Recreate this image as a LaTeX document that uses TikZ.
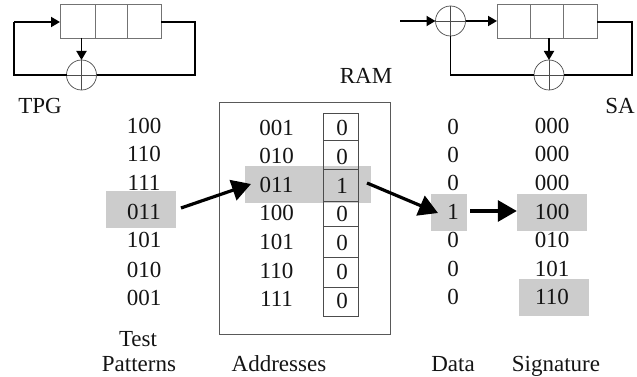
\documentclass[tikz,border=0pt]{standalone}
\usepackage{fontspec}
\setmainfont{Liberation Serif}
\usetikzlibrary{arrows.meta}
\tikzset{
  txt/.style={inner sep=0pt,font=\fontsize{23}{24}\selectfont,text=black!92},
  lbl/.style={txt,anchor=base},
  band/.style={fill=black!20,draw=none,inner sep=0pt},
  reg/.style={draw=black!55,line width=0.8pt,fill=white,minimum height=34pt,inner sep=0pt,outer sep=0pt},
  xorc/.style={circle,draw=black!70,line width=0.7pt,fill=white,minimum size=30pt,inner sep=0pt,outer sep=0pt},
  wire/.style={line width=1.8pt,black},
  arr/.style={wire,-{Triangle[length=9pt,width=10pt]}},
  big/.style={line width=3.2pt,black,-{Triangle[length=19pt,width=21pt]}},
  cellc/.style={draw=black!70,line width=0.7pt,fill=none,minimum width=35pt,inner sep=0pt,outer sep=0pt}
}
\newcommand{\xorcross}[1]{\draw[black!70,line width=0.7pt] (#1.north)--(#1.south) (#1.west)--(#1.east);}
\begin{document}
\begin{tikzpicture}[x=1pt,y=-1pt]
\useasboundingbox (0,0) rectangle (637,377);
% grey bands
\node[band,minimum width=70pt,minimum height=37pt] (gl) at (141,209.5) {};
\node[band,minimum width=126pt,minimum height=37pt] (gm) at (308,184.5) {};
\node[band,minimum width=36pt,minimum height=37pt] (gd) at (449,212.5) {};
\node[band,minimum width=70pt,minimum height=37pt] (gs1) at (552,212.5) {};
\node[band,minimum width=70pt,minimum height=37pt] (gs2) at (554,297.5) {};
% TPG
\node[reg,minimum width=35pt] (a1) at (77.5,21) {};
\node[reg,minimum width=32pt] (a2) at (111,21) {};
\node[reg,minimum width=34pt] (a3) at (144,21) {};
\node[xorc] (ax) at (81.5,75) {};
\xorcross{ax}
\coordinate (al) at (14,22);
\coordinate (ar) at (195,22);
\draw[wire] (ax.west) -- (14,75) -- (al);
\draw[arr] (al) -- (a1.west |- al);
\draw[wire] (a3.east |- ar) -- (ar) -- (195,75) -- (ax.east);
\draw[arr] (a1.south -| ax) -- (ax.north);
% SA
\coordinate (sin) at (400,21);
\node[xorc] (s1) at (450.5,21) {};
\xorcross{s1}
\node[reg,minimum width=34pt] (b1) at (514,21) {};
\node[reg,minimum width=33pt] (b2) at (547,21) {};
\node[reg,minimum width=34pt] (b3) at (580,21) {};
\node[xorc] (s2) at (549,75) {};
\xorcross{s2}
\draw[arr] (sin) -- (s1.west);
\draw[arr] (s1.east) -- (b1.west);
\draw[wire] (b3.east |- 0,22) -- (632,22) -- (632,75) -- (s2.east);
\draw[wire] (s2.west) -- (450.5,75) -- (s1.south);
\draw[arr] (b2.south -| s2) -- (s2.north);
% RAM
\node[draw=black!65,line width=0.8pt,minimum width=171pt,minimum height=232pt,inner sep=0pt] (ram) at (304.5,218) {};
\foreach \n/\ya/\yb in {1/113/140,2/140/169,3/169/201,4/201/226,5/226/257,6/257/287,7/287/316}{
  \pgfmathsetmacro{\hh}{\yb-\ya}
  \node[cellc,minimum height=\hh pt] (c\n) at (340.5,{(\ya+\yb)/2}) {};
}
\foreach \n/\y/\v in {1/128/0,2/157/0,3/186/1,4/214/0,5/243/0,6/272/0,7/301/0}
  \node[txt] (v\n) at (342,\y) {\v};
\foreach \n/\y/\v in {1/128/001,2/156/010,3/185/011,4/213/100,5/242/101,6/271/110,7/299/111}
  \node[txt] (ad\n) at (276.5,\y) {\v};
% Columns
\foreach \n/\y/\v in {1/126/100,2/154/110,3/183/111,4/212/011,5/240/101,6/270/010,7/298/001}
  \node[txt] (p\n) at (144,\y) {\v};
\foreach \n/\y/\v in {1/127/0,2/155/0,3/183/0,4/212/1,5/240/0,6/269/0,7/297/0}
  \node[txt] (d\n) at (453,\y) {\v};
\foreach \n/\y/\v in {1/126/000,2/154/000,3/183/000,4/212/100,5/240/010,6/269/101,7/297/110}
  \node[txt] (g\n) at (552,\y) {\v};
% labels
\node[lbl] (tpg) at (40,114) {TPG};
\node[lbl] (sal) at (620,114) {SA};
\node[lbl] (raml) at (366,84) {RAM};
\node[lbl] (t1) at (138,346) {Test};
\node[lbl] (t2) at (139,371) {Patterns};
\node[lbl] (t3) at (279,371) {Addresses};
\node[lbl] (t4) at (453,371) {Data};
\node[lbl] (t5) at (556,371) {Signature};
% big arrows
\coordinate (e1a) at (181,208);
\coordinate (e1b) at (251,184);
\coordinate (e2a) at (367,183);
\coordinate (e2b) at (438,213);
\coordinate (e3a) at (470,211);
\draw[big] (e1a) -- (e1b);
\draw[big] (e2a) -- (e2b);
\draw[big] (e3a) -- (gs1.west |- e3a);
\end{tikzpicture}
\end{document}
